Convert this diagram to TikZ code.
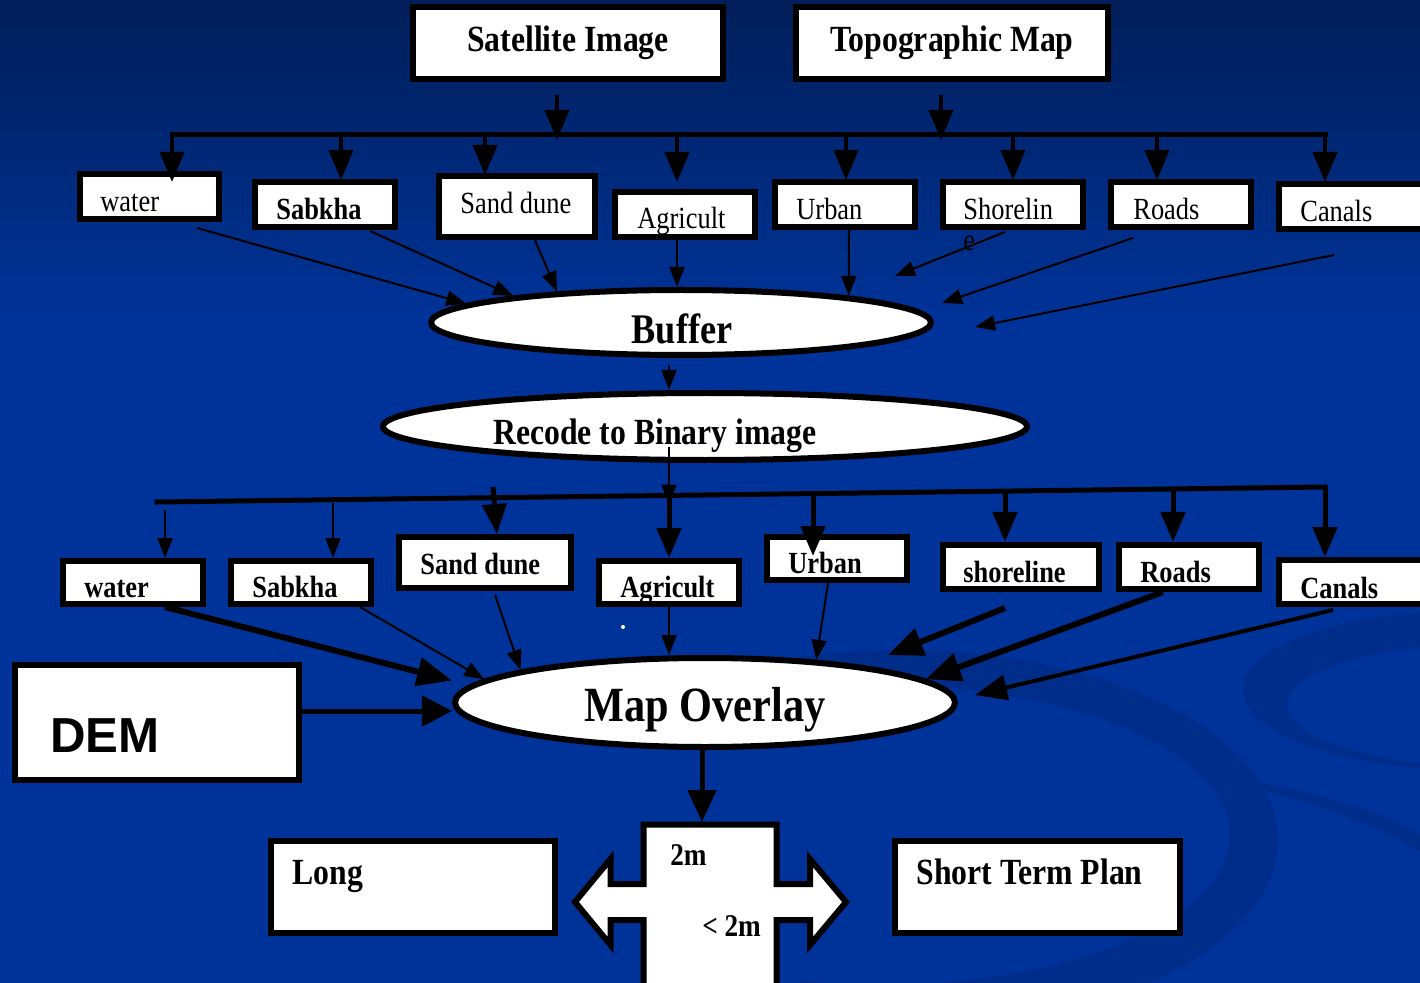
\documentclass[tikz,border=0pt]{standalone}
\usepackage{fontspec}
\newfontfamily\pptfont{Liberation Serif}[FakeStretch=0.86]
\newfontfamily\demfont{Liberation Sans}
\usepackage{tikz}
\usetikzlibrary{shapes.geometric, arrows.meta, calc, positioning}
\definecolor{slidetop}{RGB}{0,30,88}
\definecolor{slideblue}{RGB}{0,51,153}
\definecolor{swoosh}{RGB}{0,45,138}
\tikzstyle{box} = [rectangle, draw=black, line width=1.2mm, fill=white, inner sep=0pt]
\tikzstyle{oval} = [ellipse, draw=black, line width=1.2mm, fill=white, inner sep=0pt]
\tikzstyle{src} = [box, minimum height=14.4mm, font=\pptfont\bfseries\fontsize{21}{24}\selectfont]
\tikzstyle{cls} = [box, minimum width=28mm, minimum height=9mm]
\tikzstyle{clsb} = [box, minimum width=28mm, minimum height=8.6mm]
\tikzstyle{lbl} = [inner sep=0pt, anchor=base west, font=\pptfont\fontsize{17.5}{20}\selectfont]
\tikzstyle{blbl} = [lbl, font=\pptfont\bfseries\fontsize{17.5}{20}\selectfont]
\tikzstyle{title} = [inner sep=0pt, anchor=base, font=\pptfont\bfseries\fontsize{21}{24}\selectfont]
\tikzstyle{bus} = [line width=1mm, line cap=rect]
\tikzstyle{drop} = [line width=0.8mm, -{Triangle[width=4.8mm,length=6mm]}]
\tikzstyle{fine} = [line width=0.4mm, -{Triangle[width=3mm,length=4mm]}]
\tikzstyle{mid} = [line width=0.8mm, -{Triangle[width=5mm,length=6.4mm]}]
\tikzstyle{heavy} = [line width=1.2mm, -{Triangle[width=5.6mm,length=7mm]}]

\begin{document}
\begin{tikzpicture}[x=0.2mm, y=-0.2mm]
		% slide background
		\useasboundingbox (0,0) rectangle (1420,983);
		\clip (0,0) rectangle (1420,983);
		\shade[top color=slidetop, bottom color=slideblue] (0,0) rectangle (1420,320);
		\fill[slideblue] (0,319) rectangle (1420,983);
		\fill[swoosh, even odd rule] (1470,690) ellipse [x radius=227, y radius=80] (1500,705) ellipse [x radius=213, y radius=63];
		\begin{scope}
			\clip (800,600) rectangle (1420,983);
			\fill[swoosh, even odd rule] (900,840) ellipse [x radius=378, y radius=190] (880,835) ellipse [x radius=350, y radius=150];
		\end{scope}
		\fill[swoosh] (1190,772) .. controls (1300,785) and (1380,810) .. (1420,835) -- (1420,852) .. controls (1370,820) and (1290,795) .. (1190,772) -- cycle;

		% data sources
		\node (sat) [src, minimum width=62mm] at (568,43) {Satellite Image};
		\node (topo) [src, minimum width=62.4mm] at (952,43) {Topographic Map};

		% classes taken from the sources
		\node (tWater) [cls, minimum width=27.8mm] at (149.5,196.5) {};
		\node (tSabkha) [cls] at (325,204.5) {};
		\node (tSand) [cls, minimum width=31.2mm, minimum height=12.2mm] at (517,206.5) {};
		\node (tAgri) [cls] at (685,214.5) {};
		\node (tUrban) [cls] at (845,204.5) {};
		\node (tShore) [cls] at (1013,204.5) {};
		\node (tRoads) [cls] at (1181,204.5) {};
		\node (tCanals) [cls, minimum width=31.6mm] at (1358,206.5) {};
		\node (tWaterTxt) [lbl] at (100,212) {water};
		\node (tSabkhaTxt) [blbl] at (276,220) {Sabkha};
		\node (tSandTxt) [lbl] at (460,214) {Sand dune};
		\node (tAgriTxt) [lbl] at (637,229) {Agricult};
		\node (tUrbanTxt) [lbl] at (796,220) {Urban};
		\node (tShoreTxt) [lbl] at (963,220) {Shorelin};
		\node (tShoreEnd) [lbl] at (963,251) {e};
		\node (tRoadsTxt) [lbl] at (1133,220) {Roads};
		\node (tCanalsTxt) [lbl] at (1300,222) {Canals};

		% buffer and recode steps
		\node (buf) [oval, minimum width=100mm, minimum height=13mm] at (681,322.5) {};
		\node (bufTxt) [title, font=\pptfont\bfseries\fontsize{24}{28}\selectfont] at (682,344) {Buffer};
		\node (rec) [oval, minimum width=128.8mm, minimum height=13.4mm] at (705,426.5) {};
		\node (recTxt) [title] at (655,444) {Recode to Binary image};

		% binary layers
		\node (bWater) [clsb] at (133,582.5) {};
		\node (bSabkha) [clsb] at (301,582.5) {};
		\node (bSand) [clsb, minimum width=34.4mm, minimum height=10.2mm] at (485,562.5) {};
		\node (bAgri) [clsb] at (669,582.5) {};
		\node (bUrban) [clsb] at (837,558.5) {};
		\node (bShore) [clsb, minimum width=31.2mm, minimum height=8.8mm] at (1021,567) {};
		\node (bRoads) [clsb, minimum height=8.8mm] at (1189,567) {};
		\node (bCanals) [clsb, minimum width=31.6mm, minimum height=8.8mm] at (1358,582) {};
		\node (bWaterTxt) [blbl] at (84,597) {water};
		\node (bSabkhaTxt) [blbl] at (252,597) {Sabkha};
		\node (bSandTxt) [blbl] at (420,574) {Sand dune};
		\node (bAgriTxt) [blbl] at (620,597) {Agricult};
		\node (bUrbanTxt) [blbl] at (788,573) {Urban};
		\node (bShoreTxt) [blbl] at (963,582) {shoreline};
		\node (bRoadsTxt) [blbl] at (1140,582) {Roads};
		\node (bCanalsTxt) [blbl] at (1300,598) {Canals};

		% overlay, elevation model and plans
		\node (map) [oval, minimum width=100mm, minimum height=17.8mm] at (705,702.5) {};
		\node (mapTxt) [title, font=\pptfont\bfseries\fontsize{28}{32}\selectfont] at (705,721) {Map Overlay};
		\node (dem) [box, minimum width=56.8mm, minimum height=23mm] at (157,722.5) {};
		\node (demTxt) [inner sep=0pt, anchor=base west, font=\demfont\bfseries\fontsize{28}{32}\selectfont] at (50,752) {DEM};
		\node (long) [box, minimum width=56.8mm, minimum height=18.4mm] at (413,887) {};
		\node (longTxt) [title, anchor=base west] at (292,884) {Long};
		\node (short) [box, minimum width=57mm, minimum height=18.4mm] at (1037.5,887) {};
		\node (shortTxt) [title, anchor=base west] at (916,884) {Short Term Plan};

		% two way split between the plans
		\draw[line width=1.2mm, fill=white] (643.5,990) -- (643.5,920) -- (610.5,920) -- (610.5,945) -- (575,902) -- (610.5,859) -- (610.5,884) -- (643.5,884) -- (643.5,824.5) -- (776.5,824.5) -- (776.5,884) -- (810,884) -- (810,859) -- (846,902) -- (810,945) -- (810,920) -- (776.5,920) -- (776.5,990) -- cycle;
		\coordinate (split) at (710,822);
		\node (hiTxt) [title, anchor=base west, font=\pptfont\bfseries\fontsize{18}{21}\selectfont] at (670,865) {2m};
		\node (loTxt) [title, anchor=base west, font=\pptfont\bfseries\fontsize{18}{21}\selectfont] at (702,936) {< 2m};
		\fill[white] (623,627) circle (0.4mm);

		% free ends of the arrows
		\coordinate (bufShore) at (895,276);
		\coordinate (bufRoads) at (942,303);
		\coordinate (bufCanals) at (975,327);
		\coordinate (mapShore) at (888,655);
		\coordinate (mapCanals) at (975,695);

		% upper bus
		\draw[drop] ($(sat.south)+(-11,13)$) -- ++(0,45);
		\draw[drop] ($(topo.south)+(-11,13)$) -- ++(0,45);
		\draw[bus] (172,135) -- (1325,135);
		\foreach \x/\n/\dy in {172/tWater/11, 341/tSabkha/1, 485/tSand/2, 677/tAgri/-7, 846/tUrban/1, 1013/tShore/1, 1157/tRoads/1, 1325/tCanals/1}
			\draw[drop] (\x,135) -- ($(\x,0 |- \n.north)+(0,\dy)$);

		% classes into the buffer
		\draw[fine] ($(tWater.south)+(47.5,6)$) -- (buf.175);
		\draw[fine] ($(tSabkha.south)+(45,1)$) -- (buf.171);
		\draw[fine] ($(tSand.south)+(18,0)$) -- (buf.166);
		\draw[fine] ($(tAgri.south)+(-8,0)$) coordinate (agOut) -- (agOut |- buf.north);
		\draw[fine] ($(tUrban.south)+(4,-6)$) -- (buf.9);
		\draw[fine] ($(tShore.south)+(-8,2)$) -- (bufShore);
		\draw[fine] ($(tRoads.south)+(-48,8)$) -- (bufRoads);
		\draw[fine] ($(tCanals.south)+(-24,23)$) -- (bufCanals);
		\draw[fine] ($(buf.south)+(-12,7)$) coordinate (bufOut) -- (bufOut |- rec.north);

		% lower bus
		\draw[fine] ($(rec.center)+(-36,20)$) -- ++(0,58);
		\draw[bus] (157,502) -- (1325,487);
		\foreach \x/\y/\n in {165/510/bWater, 333/503/bSabkha}
			\draw[fine] (\x,\y) -- (\x,0 |- \n.north);
		\draw[drop, line width=1mm] (493,487) -- (497,0 |- bSand.north);
		\foreach \x/\y/\n/\dy in {669/497/bAgri/0, 813/494/bUrban/22, 1005/491/bShore/0, 1173/489/bRoads/0, 1325/487/bCanals/0}
			\draw[drop, line width=1mm] (\x,\y) -- ($(\x,0 |- \n.north)+(0,\dy)$);

		% layers into the overlay
		\draw[heavy] ($(bWater.south)+(32,0)$) -- ($(map.west)+(0,-22)$);
		\draw[fine] ($(bSabkha.south)+(59,0)$) -- (map.174);
		\draw[fine] ($(bSand.south)+(10,4)$) -- (map.170);
		\draw[fine] (bAgri.south) -- (bAgri.south |- map.north);
		\draw[fine] ($(bUrban.south)+(-8,-6)$) -- (map.21);
		\draw[heavy] ($(bShore.south)+(-16,16)$) -- (mapShore);
		\draw[heavy] ($(bRoads.south)+(-26,0)$) -- (map.6);
		\draw[mid] ($(bCanals.south)+(-25,3)$) -- (mapCanals);
		\draw[line width=1mm, -{Triangle[width=6mm,length=6mm]}] ($(dem.east)+(0,-11.5)$) coordinate (demOut) -- (demOut -| map.west);
		\draw[line width=1mm, -{Triangle[width=5.6mm,length=6.4mm]}] ($(map.south)+(-3,0)$) coordinate (mapOut) -- (mapOut |- split);
\end{tikzpicture}
\end{document}
